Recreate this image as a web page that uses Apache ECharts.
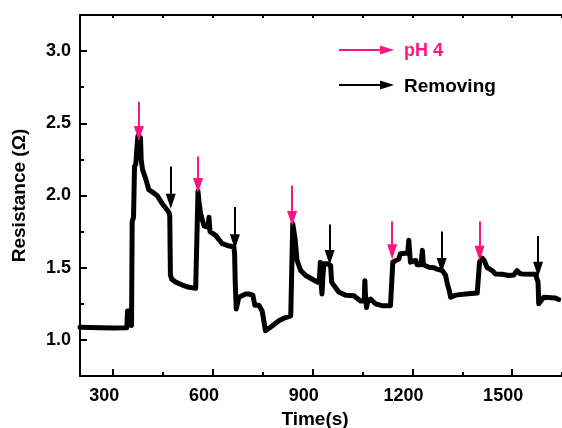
<!DOCTYPE html>
<html><head><meta charset="utf-8">
<script src="https://cdn.jsdelivr.net/npm/echarts@6/dist/echarts.min.js"></script>
<style>html,body{margin:0;padding:0;background:#fff}#c{width:562px;height:428px}</style>
</head><body><div id="c"></div>
<script>
// Time (s) and resistance (Ohm)
const timeS = [200,260,300,341,343,352,355,357,361,364,368,374,382,384,388,397,407,417,432,447,467,470,472,476,488,508,528,548,553,555,558,563,573,585,588,591,593,608,628,643,663,665,667,670,674,678,698,708,720,723,726,738,748,758,763,778,798,818,834,837,840,843,847,853,864,879,899,914,920,923,925,928,931,934,944,954,957,964,979,999,1024,1044,1055,1057,1059,1062,1065,1074,1089,1109,1134,1139,1141,1150,1159,1164,1169,1179,1186,1189,1192,1194,1210,1214,1226,1230,1233,1236,1250,1265,1274,1290,1300,1305,1310,1315,1330,1360,1395,1399,1402,1410,1416,1425,1440,1450,1470,1490,1505,1515,1523,1530,1570,1576,1578,1580,1585,1595,1630,1640];
const resistance = [1.088,1.085,1.083,1.085,1.2,1.2,1.1,1.82,1.85,2.2,2.22,2.41,2.40,2.25,2.18,2.12,2.04,2.025,2.0,1.945,1.886,1.86,1.45,1.42,1.40,1.38,1.364,1.357,1.36,2.03,1.95,1.875,1.79,1.78,1.85,1.75,1.747,1.724,1.666,1.654,1.643,1.60,1.40,1.214,1.22,1.295,1.318,1.318,1.31,1.306,1.24,1.24,1.2,1.063,1.056,1.097,1.132,1.155,1.167,1.17,1.805,1.80,1.70,1.55,1.48,1.446,1.42,1.40,1.42,1.538,1.40,1.318,1.45,1.527,1.527,1.515,1.40,1.376,1.33,1.31,1.306,1.27,1.27,1.41,1.30,1.225,1.26,1.283,1.25,1.237,1.237,1.24,1.538,1.55,1.56,1.597,1.59,1.6,1.60,1.69,1.60,1.538,1.55,1.52,1.52,1.62,1.52,1.515,1.503,1.50,1.49,1.48,1.446,1.388,1.35,1.295,1.31,1.318,1.325,1.33,1.54,1.567,1.55,1.50,1.48,1.457,1.455,1.446,1.45,1.48,1.46,1.457,1.455,1.455,1.40,1.25,1.26,1.295,1.29,1.28];

// annotation arrows (time, top of shaft, tip)
const pinkArrowT = [377, 555, 838, 1139, 1402];
const pinkArrowTop = [2.65, 2.27, 2.07, 1.82, 1.82];
const pinkArrowTip = [2.43, 2.07, 1.84, 1.61, 1.60];
const blackArrowT = [473, 666, 951, 1288, 1578];
const blackArrowTop = [2.20, 1.92, 1.80, 1.75, 1.72];
const blackArrowTip = [1.96, 1.68, 1.57, 1.515, 1.49];

const xMajor = [300, 600, 900, 1200, 1500];
const xMinor = [450, 750, 1050, 1350, 1650];
const yMajor = [1.0, 1.5, 2.0, 2.5, 3.0];
const yMinor = [1.25, 1.75, 2.25, 2.75];

const PINK = '#ff1482';
const FONT = '"Liberation Sans", Arial, sans-serif';

const lineData = timeS.map((t, i) => [t, resistance[i]]);
const arrows = [];
pinkArrowT.forEach((t, i) => arrows.push([{coord: [t, pinkArrowTop[i]], lineStyle: {color: PINK}}, {coord: [t, pinkArrowTip[i]]}]));
blackArrowT.forEach((t, i) => arrows.push([{coord: [t, blackArrowTop[i]], lineStyle: {color: '#000'}}, {coord: [t, blackArrowTip[i]]}]));

const chart = echarts.init(document.getElementById('c'), null, {renderer: 'canvas'});
const axisLineStyle = {color: '#000', width: 2};
chart.setOption({
  animation: false,
  backgroundColor: '#fff',
  grid: {left: 80, right: 0, top: 15, bottom: 52, containLabel: false, outerBoundsMode: 'none'},
  xAxis: [
    {type: 'value', min: 200, max: 1650, position: 'bottom',
     axisLine: {show: true, onZero: false, lineStyle: axisLineStyle},
     axisTick: {show: true, inside: true, length: 7, lineStyle: {width: 2, color: '#000'}, customValues: xMajor},
     axisLabel: {customValues: xMajor, color: '#000', fontSize: 18, fontWeight: 'bold', fontFamily: FONT, margin: 11, padding: [0, 18, 0, 0],
                 formatter: v => String(v)},
     splitLine: {show: false},
     name: 'Time(s)', nameLocation: 'middle', nameGap: 31,
     nameTextStyle: {color: '#000', fontSize: 19, fontWeight: 'bold', fontFamily: FONT, padding: [0, 12, 0, 0]}},
    {type: 'value', min: 200, max: 1650, position: 'bottom',
     axisLine: {show: false},
     axisTick: {show: true, inside: true, length: 4, lineStyle: {width: 2, color: '#000'}, customValues: xMinor},
     axisLabel: {show: false}, splitLine: {show: false}},
    {type: 'value', min: 200, max: 1650, position: 'top',
     axisLine: {show: true, onZero: false, lineStyle: axisLineStyle},
     axisTick: {show: true, inside: true, length: 3, lineStyle: {width: 2, color: '#000'}, customValues: xMajor.concat(xMinor)},
     axisLabel: {show: false}, splitLine: {show: false}}
  ],
  yAxis: [
    {type: 'value', min: 0.75, max: 3.25, position: 'left',
     axisLine: {show: true, onZero: false, lineStyle: axisLineStyle},
     axisTick: {show: true, inside: true, length: 7, lineStyle: {width: 2, color: '#000'}, customValues: yMajor},
     axisLabel: {customValues: yMajor, color: '#000', fontSize: 18, fontWeight: 'bold', fontFamily: FONT, margin: 9,
                 formatter: v => v.toFixed(1)},
     splitLine: {show: false},
     name: 'Resistance (Ω)', nameLocation: 'middle', nameGap: 51, nameRotate: 90,
     nameTextStyle: {color: '#000', fontSize: 19, fontWeight: 'bold', fontFamily: FONT}},
    {type: 'value', min: 0.75, max: 3.25, position: 'left',
     axisLine: {show: false},
     axisTick: {show: true, inside: true, length: 4, lineStyle: {width: 2, color: '#000'}, customValues: yMinor},
     axisLabel: {show: false}, splitLine: {show: false}}
  ],
  series: [{
    type: 'line', data: lineData, xAxisIndex: 0, yAxisIndex: 0,
    showSymbol: false, symbol: 'none', silent: true,
    lineStyle: {color: '#000', width: 5, join: 'round', cap: 'round'},
    markLine: {
      silent: true, animation: false,
      symbol: ['none', 'triangle'], symbolSize: [10, 15], symbolOffset: [0, 0],
      label: {show: false},
      lineStyle: {type: 'solid', width: 2},
      emphasis: {disabled: true},
      data: arrows
    }
  }],
  graphic: [
    {type: 'line', shape: {x1: 339, y1: 50, x2: 384, y2: 50}, style: {stroke: PINK, lineWidth: 2}},
    {type: 'polygon', shape: {points: [[380, 45.5], [394, 50], [380, 54.5]]}, style: {fill: PINK}},
    {type: 'text', left: 404, top: 42, style: {text: 'pH 4', fill: PINK, font: 'bold 18px ' + FONT}},
    {type: 'line', shape: {x1: 339, y1: 85, x2: 384, y2: 85}, style: {stroke: '#000', lineWidth: 2}},
    {type: 'polygon', shape: {points: [[380, 80.5], [394, 85], [380, 89.5]]}, style: {fill: '#000'}},
    {type: 'text', left: 404, top: 77, style: {text: 'Removing', fill: '#000', font: 'bold 19px ' + FONT}}
  ]
});
</script></body></html>
